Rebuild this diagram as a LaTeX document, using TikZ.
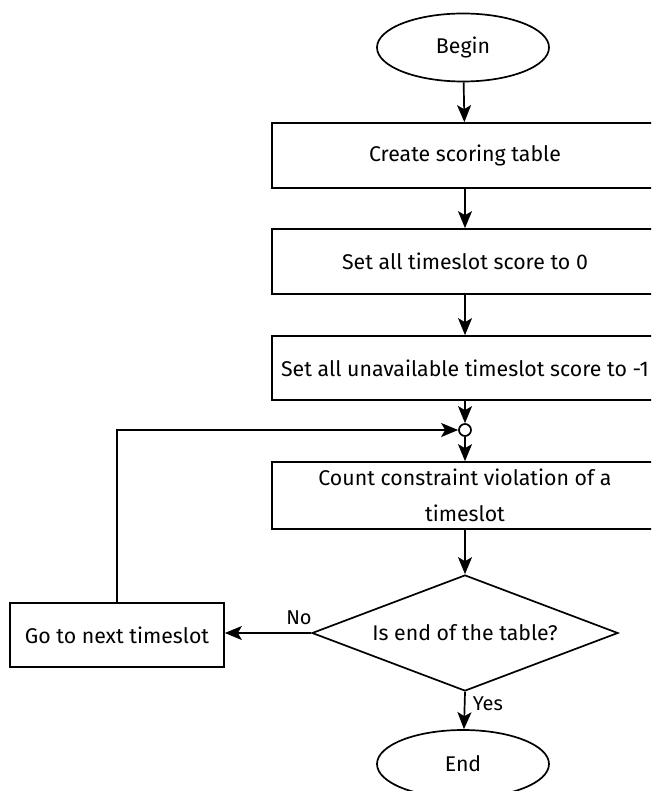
\documentclass[tikz,border=0pt]{standalone}
\usepackage{fontspec}
\setmainfont{Fira Sans}
\usetikzlibrary{shapes.geometric,arrows.meta}
\begin{document}
\begin{tikzpicture}[x=1pt,y=-1pt,
  font=\fontsize{21.3}{36}\selectfont,
  line width=1.7pt,
  every node/.style={inner sep=0pt},
  terminal/.style={draw, ellipse, minimum width=172pt, minimum height=68pt},
  stepbox/.style={draw, rectangle, minimum width=386pt},
  decision/.style={draw, diamond, aspect=2.64, minimum width=306pt, minimum height=116pt},
  joint/.style={draw, circle, minimum size=12pt, fill=white},
  flow/.style={-{Stealth[length=17pt,width=14pt,inset=4pt]}, line width=1.7pt},
  lbl/.style={font=\fontsize{20}{24}\selectfont}]
\useasboundingbox (0,0) rectangle (651,791);
\clip (0,0) rectangle (651,791);

% main column
\node[terminal] (begin) at (463,47.5) {Begin};
\node[stepbox, minimum height=65pt] (create) at (465,155.5) {Create scoring table};
\node[stepbox, minimum height=65pt] (zero) at (465,261.5) {Set all timeslot score to 0};
\node[stepbox, minimum height=64pt] (unavail) at (465,368) {Set all unavailable timeslot score to -1};
\node[joint] (join) at (465,430) {};
\node[stepbox, minimum height=67pt, align=center] (count) at (465,495.5)
  {Count constraint violation of a\\timeslot};
\node[decision] (test) at (465,633) {Is end of the table?};
\node[terminal] (end) at (463,764) {End};

% loop-back step
\node[draw, rectangle, minimum width=214pt, minimum height=64pt] (next) at (117,635) {Go to next timeslot};

% connectors
\draw[flow] (begin) -- (create);
\draw[flow] (create) -- (zero);
\draw[flow] (zero) -- (unavail);
\draw[flow] (unavail) -- (join);
\draw[flow] (join) -- (count);
\draw[flow] (count) -- (test);
\draw[flow] (test.south) -- (end);
\node[lbl, anchor=west] (yes) at (472,704) {Yes};
\draw[flow] (test.west) -- (next.east |- test.west);
\node[lbl, anchor=south] (no) at (299,626) {No};
\draw[flow] (next.north) |- (join.west);
\end{tikzpicture}
\end{document}
